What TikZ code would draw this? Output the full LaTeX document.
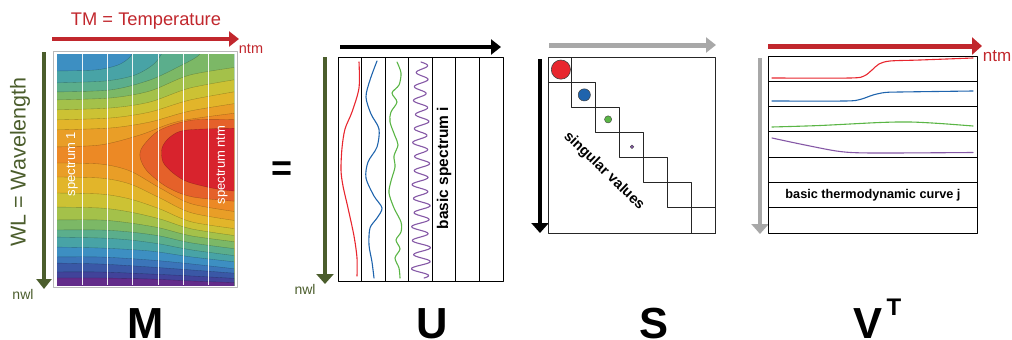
\documentclass[tikz,border=0pt]{standalone}
\usepackage{fontspec}
\setmainfont{Liberation Sans}
\usetikzlibrary{arrows.meta}

% contour palette, cold to hot
\definecolor{L0}{HTML}{632C8A}
\definecolor{L1}{HTML}{41439A}
\definecolor{L2}{HTML}{3A58A6}
\definecolor{L3}{HTML}{3B75B9}
\definecolor{L4}{HTML}{3D8FC2}
\definecolor{L5}{HTML}{48A3A6}
\definecolor{L6}{HTML}{5BAE8C}
\definecolor{L7}{HTML}{7CB866}
\definecolor{L8}{HTML}{A4C14A}
\definecolor{L9}{HTML}{CCC234}
\definecolor{L10}{HTML}{E2B52A}
\definecolor{L11}{HTML}{E99E27}
\definecolor{L12}{HTML}{EC8925}
\definecolor{L13}{HTML}{E5612A}
\definecolor{L14}{HTML}{D8232D}
% axis and curve colours
\definecolor{axred}{HTML}{C1272D}
\definecolor{olive}{HTML}{4B5D2C}
\definecolor{axgray}{HTML}{A8A8A8}
\definecolor{cred}{HTML}{E8262E}
\definecolor{cblue}{HTML}{1F64AD}
\definecolor{cgreen}{HTML}{5AB545}
\definecolor{cpurple}{HTML}{8558A6}

\begin{document}
\begin{tikzpicture}[x=1pt,y=-1pt,line join=round,
  cl/.style={draw=black,draw opacity=0.28,line width=0.35pt},
  tipbig/.style={-{Triangle[length=10pt,width=15pt]}},
  tipwide/.style={-{Triangle[length=10pt,width=17pt]}},
  frame/.style={draw=black,line width=0.9pt},
  curve/.style={line width=1.1pt,line cap=round},
  lab/.style={inner sep=0pt,font=\fontsize{#1}{#1}\selectfont},
  blab/.style={inner sep=0pt,font=\fontsize{#1}{#1}\selectfont\bfseries},
  big/.style={inner sep=0pt,anchor=base,font=\fontsize{43.5}{43.5}\selectfont\bfseries}]
\useasboundingbox (0,0) rectangle (1012,340);

% ---------------- M : measured data ----------------
\draw[gray!55,line width=0.8pt,fill=white] (53,51) rectangle (237,287);
\begin{scope}
  \clip (57,54) rectangle (234,285);
  \fill[L4] (45,40) rectangle (245,295);
  % upper half of the map, rising towards the hot band
  \fill[L5,cl] plot[smooth] coordinates {(50,71) (95,70) (118,65) (130,57) (136,46)} -- (245,40) -- (245,295) -- (45,295) -- (45,71) -- cycle;
  \fill[L6,cl] plot[smooth] coordinates {(50,83) (105,81) (135,75) (155,63) (166,46)} -- (245,40) -- (245,295) -- (45,295) -- (45,83) -- cycle;
  \fill[L7,cl] plot[smooth] coordinates {(50,92) (110,90) (150,80) (180,66) (198,56) (205,46)} -- (245,40) -- (245,295) -- (45,295) -- (45,92) -- cycle;
  \fill[L8,cl] plot[smooth] coordinates {(50,100) (110,98) (150,91) (190,75) (245,66)} -- (245,295) -- (45,295) -- (45,100) -- cycle;
  \fill[L9,cl] plot[smooth] coordinates {(50,110) (110,108) (150,102) (190,88) (245,78)} -- (245,295) -- (45,295) -- (45,110) -- cycle;
  \fill[L10,cl] plot[smooth] coordinates {(50,120) (110,118) (150,112) (190,100) (245,90)} -- (245,295) -- (45,295) -- (45,120) -- cycle;
  \fill[L11,cl] plot[smooth] coordinates {(50,130) (110,128) (150,122) (190,111) (245,102)} -- (245,295) -- (45,295) -- (45,130) -- cycle;
  \fill[L12,cl] plot[smooth] coordinates {(50,147) (100,145) (140,135) (180,121) (245,112)} -- (245,295) -- (45,295) -- (45,147) -- cycle;
  % lower half of the map, cooling towards long wavelengths
  \fill[L11,cl] plot[smooth] coordinates {(50,163) (100,164) (130,171) (160,188) (192,204) (245,213)} -- (245,295) -- (45,295) -- (45,163) -- cycle;
  \fill[L10,cl] plot[smooth] coordinates {(50,177) (100,178) (130,184) (160,198) (192,213) (245,222)} -- (245,295) -- (45,295) -- (45,177) -- cycle;
  \fill[L9,cl] plot[smooth] coordinates {(50,193) (100,194) (130,199) (160,209) (192,222) (245,230)} -- (245,295) -- (45,295) -- (45,193) -- cycle;
  \fill[L8,cl] plot[smooth] coordinates {(50,207) (100,208) (130,212) (160,219) (192,229) (245,237)} -- (245,295) -- (45,295) -- (45,207) -- cycle;
  \fill[L7,cl] plot[smooth] coordinates {(50,220) (100,220) (130,223) (160,228) (192,236) (245,243)} -- (245,295) -- (45,295) -- (45,220) -- cycle;
  \fill[L6,cl] plot[smooth] coordinates {(50,230) (100,230) (130,232) (160,236) (192,243) (245,250)} -- (245,295) -- (45,295) -- (45,230) -- cycle;
  \fill[L5,cl] plot[smooth] coordinates {(50,237) (100,238) (130,240) (160,244) (192,250) (245,257)} -- (245,295) -- (45,295) -- (45,237) -- cycle;
  \fill[L4,cl] plot[smooth] coordinates {(50,247) (100,248) (150,251) (192,257) (245,263)} -- (245,295) -- (45,295) -- (45,247) -- cycle;
  \fill[L3,cl] plot[smooth] coordinates {(50,257) (100,257) (150,260) (192,264) (245,270)} -- (245,295) -- (45,295) -- (45,257) -- cycle;
  \fill[L2,cl] plot[smooth] coordinates {(50,263) (100,264) (150,267) (192,270) (245,274)} -- (245,295) -- (45,295) -- (45,263) -- cycle;
  \fill[L1,cl] plot[smooth] coordinates {(50,272) (100,272) (150,274) (192,276) (245,279)} -- (245,295) -- (45,295) -- (45,272) -- cycle;
  \fill[L0,cl] plot[smooth] coordinates {(50,278) (100,278) (150,279) (192,281) (245,283)} -- (245,295) -- (45,295) -- (45,278) -- cycle;
  % hot spot
  \fill[L13,cl] plot[smooth] coordinates {(245,120) (193,120) (160,130) (143,146) (140,157) (147,171) (167,187) (193,197) (245,202)} -- cycle;
  \fill[L14,cl] plot[smooth] coordinates {(245,128) (187,130) (170,137) (162,148) (163,162) (173,173) (188,182) (217,189) (245,192)} -- cycle;
  % spectrum separators
  \foreach \x in {82.3,107.6,132.9,158.1,183.4,208.7}
    \draw[white,opacity=0.9,line width=0.9pt] (\x,54) -- (\x,285);
\end{scope}
\node[lab=13,text=white,rotate=90] (spec1) at (72,164) {spectrum 1};
\node[lab=13,text=white,rotate=90] (specn) at (222,165) {spectrum ntm};

% temperature and wavelength axes
\coordinate (tmA) at (52,39);
\coordinate (tmB) at (239,39);
\draw[axred,line width=4pt,tipbig] (tmA) -- (tmB);
\node[lab=18.3,text=axred] (tmlab) at (146,21) {TM = Temperature};
\node[lab=14.5,text=axred] (ntmM) at (251,49) {ntm};
\coordinate (wlA) at (44,52);
\coordinate (wlB) at (44,289);
\draw[olive,line width=4.5pt,tipbig] (wlA) -- (wlB);
\node[lab=21.5,text=olive,rotate=90] (wllab) at (20,162) {WL = Wavelength};
\node[lab=14,text=olive] (nwlM) at (23,294) {nwl};

\node[blab=36] (eq) at (282,171) {=};

% ---------------- U : basic spectra ----------------
\coordinate (uxA) at (340,47);
\coordinate (uxB) at (501,47);
\draw[black,line width=4.5pt,tipbig] (uxA) -- (uxB);
\coordinate (uyA) at (325,57);
\coordinate (uyB) at (325,284);
\draw[olive,line width=3.6pt,tipwide] (uyA) -- (uyB);
\node[lab=14,text=olive] (nwlU) at (305,289) {nwl};
\draw[frame] (338,57) rectangle (503,281);
\foreach \x in {361.6,385.1,408.7,432.3,455.9,479.4}
  \draw[frame] (\x,57) -- (\x,281);
\draw[cred,curve] plot[smooth] coordinates {(359,62) (359,88) (352,112) (345,129) (342,148) (341,170) (343,186) (348,208) (354,236) (357,258) (357,276)};
\draw[cblue,curve] plot[smooth] coordinates {(377,61) (370,80) (366,97) (371,114) (379,129) (377,147) (368,162) (366,178) (374,196) (382,208) (377,218) (370,228) (369,245) (372,262) (374,278)};
\draw[cgreen,curve] plot[smooth] coordinates {(397,62) (401,73) (399,85) (392,93) (397,102) (391,112) (390,122) (395,136) (398,145) (394,156) (395,167) (391,181) (389,193) (394,208) (401,222) (401,232) (396,240) (400,249) (395,258) (399,268) (400,278)};
\draw[cpurple,curve] plot[smooth,variable=\t,domain=62:278,samples=220]
  ({421+(6+3*(\t-62)/216)*sin(25.7*(\t-62))+1.3*sin(8*(\t-62))},{\t});
\node[blab=15.5,rotate=90] (bspec) at (444,168) {basic spectrum i};

% ---------------- S : singular values ----------------
\coordinate (sxA) at (549,45);
\coordinate (sxB) at (716,45);
\draw[axgray,line width=5pt,tipbig] (sxA) -- (sxB);
\coordinate (syA) at (540,59);
\coordinate (syB) at (540,233);
\draw[black,line width=3.8pt,tipwide] (syA) -- (syB);
\draw[frame,draw=black!85] (548,57) rectangle (715,233);
\foreach \k in {0,...,6}
  \draw[frame,draw=black!85] ({548+\k*23.857},{57+\k*25.143}) rectangle ++(23.857,25.143);
\fill[cred,draw=black!75,line width=0.6pt] (560.9,69.6) circle (9.6);
\fill[cblue,draw=black!75,line width=0.5pt] (584.3,94.9) circle (6.1);
\fill[cgreen,draw=black!75,line width=0.4pt] (608.1,119.4) circle (3.6);
\fill[cpurple,draw=black!75,line width=0.3pt] (632,146.8) circle (1.9);
\node[blab=14.5,rotate=-44] (sing) at (604,171) {singular values};

% ---------------- V^T : thermodynamic curves ----------------
\coordinate (vxA) at (768,46);
\coordinate (vxB) at (982,46);
\draw[axred,line width=5pt,tipwide] (vxA) -- (vxB);
\node[lab=17,text=axred] (ntmV) at (997,56) {ntm};
\coordinate (vyA) at (760,58);
\coordinate (vyB) at (760,234);
\draw[axgray,line width=4.5pt,tipwide] (vyA) -- (vyB);
\draw[frame] (768,56) rectangle (977,233);
\foreach \y in {81.3,106.6,131.9,157.1,182.4,207.7}
  \draw[frame] (768,\y) -- (977,\y);
\draw[cred,curve] plot[smooth] coordinates {(772,78) (850,78) (864,76) (872,70) (879,64) (890,61) (920,60) (973,58)};
\draw[cblue,curve] plot[smooth] coordinates {(772,101) (845,101) (860,99.5) (873,95) (885,92.5) (900,92) (973,91)};
\draw[cgreen,curve] plot[smooth] coordinates {(772,127) (820,125.5) (880,122.5) (910,122) (940,123.5) (973,126)};
\draw[cpurple,curve] plot[smooth] coordinates {(772,138) (805,145) (840,151.5) (873,153) (973,152.5)};
\node[blab=12.7] (bthermo) at (873,195) {basic thermodynamic curve j};

% ---------------- matrix names ----------------
\node[big] (nameM) at (146,338) {M};
\node[big] (nameU) at (432,338) {U};
\node[big] (nameS) at (654,338) {S};
\node[big] (nameV) at (868,338) {V};
\node[blab=24] (nameT) at (894,307) {T};
\end{tikzpicture}
\end{document}
